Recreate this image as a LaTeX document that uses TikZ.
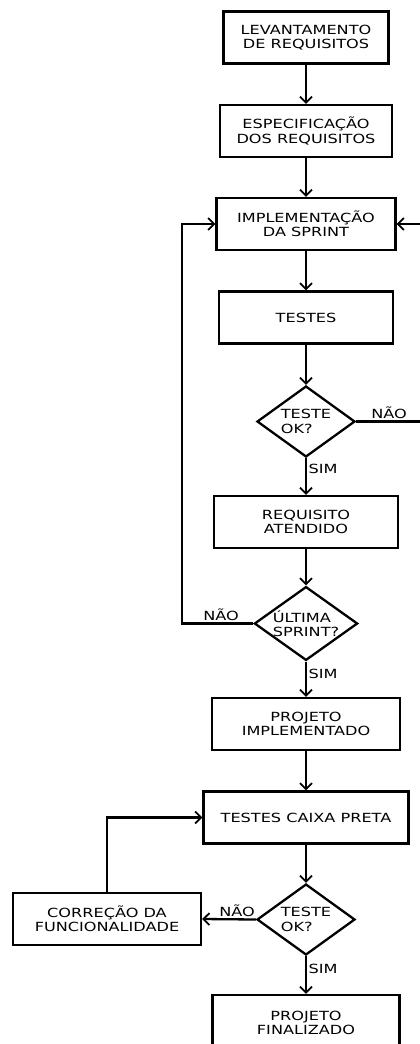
\documentclass[tikz,border=0pt]{standalone}
\usepackage{fontspec}
\usepackage{tikz}
\usetikzlibrary{arrows.meta}
\usetikzlibrary{shapes.geometric}
\newfontfamily\flowfont[FakeStretch=1.28]{DejaVu Sans}
\tikzset{etapa/.style = {draw, line width=2.3pt, rectangle, align=center,
                         minimum height=52pt, inner sep=0pt,
                         font=\flowfont\fontsize{12.6}{14.5}\selectfont}}
\tikzset{decisao/.style = {draw, line width=2.3pt, diamond, aspect=1.4, align=left,
                           minimum width=98pt, minimum height=71pt, inner sep=0pt,
                           font=\flowfont\fontsize{12.6}{14.5}\selectfont}}
\tikzset{fluxo/.style = {line width=2.3pt, -{Straight Barb[length=6pt,width=12pt,line width=1.8pt]}}}
\tikzset{rotulo/.style = {font=\flowfont\fontsize{12.6}{14.5}\selectfont, inner sep=1.5pt}}

\begin{document}
\begin{tikzpicture}[x=1pt, y=-1pt]
    \useasboundingbox (0, 0) rectangle (420, 1044);

    \node [etapa, minimum width=165pt] (levant) at (306, 37.5) {LEVANTAMENTO\\DE REQUISITOS};
    \node [etapa, minimum width=172pt] (espec) at (306, 131) {ESPECIFICAÇÃO\\DOS REQUISITOS};
    \node [etapa, minimum width=179pt] (impl) at (306, 224) {IMPLEMENTAÇÃO\\DA SPRINT};
    \node [etapa, minimum width=174pt] (testes) at (306, 317.5) {TESTES};
    \node [decisao] (ok1) at (306, 421.5) {TESTE\\OK?};
    \node [etapa, minimum width=184pt] (req) at (306, 522) {REQUISITO\\ATENDIDO};
    \node [decisao] (ultima) at (306, 623.5) {ÚLTIMA\\SPRINT?};
    \node [etapa, minimum width=188pt] (projimpl) at (306, 724) {PROJETO\\IMPLEMENTADO};
    \node [etapa, minimum width=205pt] (caixa) at (306, 817.5) {TESTES CAIXA PRETA};
    \node [decisao] (ok2) at (306, 919.5) {TESTE\\OK?};
    \node [etapa, minimum width=188pt] (correcao) at (107, 919) {CORREÇÃO DA\\FUNCIONALIDADE};
    \node [etapa, minimum width=187pt, minimum height=56pt] (projfim) at (306, 1023) {PROJETO\\FINALIZADO};

    \coordinate (dir) at (422, 421.5);
    \coordinate (esq) at (182, 623.5);

    \draw [fluxo] (levant) -- (espec);
    \draw [fluxo] (espec) -- (impl);
    \draw [fluxo] (impl) -- (testes);
    \draw [fluxo] (testes) -- (ok1);
    \draw [fluxo] (ok1) -- node [rotulo, right, pos=0.3] {SIM} (req);
    \draw [fluxo] (ok1.east) -- node [rotulo, above, pos=0.5] {NÃO} (dir) |- (impl.east);
    \draw [fluxo] (req) -- (ultima);
    \draw [fluxo] (ultima.west) -- node [rotulo, above, pos=0.45] {NÃO} (esq) |- (impl.west);
    \draw [fluxo] (ultima) -- node [rotulo, right, pos=0.35] {SIM} (projimpl);
    \draw [fluxo] (projimpl) -- (caixa);
    \draw [fluxo] (caixa) -- (ok2);
    \draw [fluxo] (ok2.west) -- node [rotulo, above, pos=0.35] {NÃO} (correcao.east);
    \draw [fluxo] (correcao.north) |- (caixa.west);
    \draw [fluxo] (ok2) -- node [rotulo, right, pos=0.35] {SIM} (projfim);
  \end{tikzpicture}
\end{document}
